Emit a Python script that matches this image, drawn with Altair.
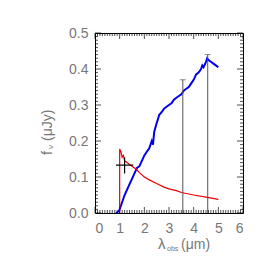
import altair as alt
import pandas as pd

# ---- data ----
blue_x = [0.85, 0.95, 1.0, 1.05, 1.1, 1.2, 1.3, 1.4, 1.5, 1.6, 1.7, 1.8, 1.9, 2.0, 2.1, 2.2,
          2.3, 2.35, 2.4, 2.5, 2.55, 2.6, 2.7, 2.8, 2.9, 3.0, 3.1, 3.2, 3.3, 3.4, 3.5, 3.6,
          3.7, 3.8, 3.9, 4.0, 4.1, 4.2, 4.3, 4.35, 4.4, 4.5, 4.55, 4.6, 4.7, 4.8, 4.9, 5.0]
blue_y = [0.0, 0.004, 0.01, 0.02, 0.03, 0.05, 0.065, 0.08, 0.095, 0.11, 0.125, 0.13, 0.145, 0.16, 0.17, 0.18,
          0.2, 0.19, 0.225, 0.25, 0.26, 0.272, 0.28, 0.29, 0.295, 0.3, 0.305, 0.315, 0.32, 0.325, 0.33, 0.34,
          0.345, 0.35, 0.36, 0.37, 0.385, 0.39, 0.4, 0.41, 0.405, 0.42, 0.43, 0.425, 0.42, 0.415, 0.41, 0.405]

red_x = [1.0, 1.0, 1.05, 1.1, 1.15, 1.2, 1.3, 1.4, 1.5, 1.6, 1.7, 1.8, 2.0, 2.2, 2.5, 2.8,
         3.0, 3.3, 3.5, 4.0, 4.5, 5.0]
red_y = [0.0, 0.178, 0.17, 0.155, 0.16, 0.145, 0.14, 0.135, 0.13, 0.125, 0.12, 0.112, 0.1, 0.092,
         0.082, 0.072, 0.067, 0.062, 0.057, 0.05, 0.044, 0.038]

err_x = [3.56, 4.57]
err_top = [0.37, 0.44]
err_bottom = [0.0, 0.0]

cross_x = [1.2]
cross_y = [0.133]
cross_xlo = [0.85]
cross_xhi = [1.55]
cross_ylo = [0.11]
cross_yhi = [0.155]

x_major = [0, 1, 2, 3, 4, 5, 6]
y_major = [0.0, 0.1, 0.2, 0.3, 0.4, 0.5]
x_minor = [round(i * 0.1, 2) for i in range(61) if i % 10 != 0]
y_minor = [round(i * 0.01, 3) for i in range(51) if i % 10 != 0]

blue = pd.DataFrame({"x": blue_x, "y": blue_y, "i": range(len(blue_x))})
red = pd.DataFrame({"x": red_x, "y": red_y, "i": range(len(red_x))})
err = pd.DataFrame({"x": err_x, "y": err_bottom, "y2": err_top})
cross = pd.DataFrame({"x": cross_x, "y": cross_y, "xlo": cross_xlo, "xhi": cross_xhi,
                      "ylo": cross_ylo, "yhi": cross_yhi})

xs = alt.Scale(domain=[0, 6], nice=False, zero=False)
ys = alt.Scale(domain=[0, 0.5], nice=False, zero=False)

MAJ = 6
MIN = 3

label_x = alt.Axis(orient="bottom", values=x_major, title=None, ticks=False, domain=False,
                   grid=False, labelPadding=8, format="d", labelOverlap=False)
label_y = alt.Axis(orient="left", values=y_major, title=None, ticks=False, domain=False,
                   grid=False, labelPadding=7, format=".1f", labelOverlap=False)

l_blue = alt.Chart(blue).mark_line(color="#0000ee", strokeWidth=2).encode(
    x=alt.X("x:Q", scale=xs, axis=label_x),
    y=alt.Y("y:Q", scale=ys, axis=label_y),
    order="i:Q",
)

l_red = alt.Chart(red).mark_line(color="#ee0000", strokeWidth=1.2).encode(
    x=alt.X("x:Q", scale=xs, axis=None),
    y=alt.Y("y:Q", scale=ys, axis=None),
    order="i:Q",
)

l_err = alt.Chart(err).mark_rule(color="#555555", strokeWidth=1).encode(
    x=alt.X("x:Q", scale=xs, axis=None),
    y=alt.Y("y:Q", scale=ys, axis=None),
    y2="y2:Q",
)

l_cap = alt.Chart(err).mark_tick(color="#555555", orient="horizontal", size=6, thickness=1).encode(
    x=alt.X("x:Q", scale=xs, axis=None),
    y=alt.Y("y2:Q", scale=ys, axis=None),
)

l_ch = alt.Chart(cross).mark_rule(color="black", strokeWidth=1.2).encode(
    x=alt.X("xlo:Q", scale=xs, axis=None),
    x2="xhi:Q",
    y=alt.Y("y:Q", scale=ys, axis=None),
)

l_cv = alt.Chart(cross).mark_rule(color="black", strokeWidth=1.2).encode(
    x=alt.X("x:Q", scale=xs, axis=None),
    y=alt.Y("ylo:Q", scale=ys, axis=None),
    y2="yhi:Q",
)


def xticks(values, size, at, off):
    return alt.Chart(pd.DataFrame({"v": values})).mark_tick(
        color="black", orient="vertical", size=size, thickness=1, yOffset=off).encode(
        x=alt.X("v:Q", scale=xs, axis=None), y=alt.Y(datum=at, axis=None))


def yticks(values, size, at, off):
    return alt.Chart(pd.DataFrame({"v": values})).mark_tick(
        color="black", orient="horizontal", size=size, thickness=1, xOffset=off).encode(
        y=alt.Y("v:Q", scale=ys, axis=None), x=alt.X(datum=at, axis=None))


tick_layers = [
    xticks(x_major, MAJ, 0, -MAJ / 2), xticks(x_minor, MIN, 0, -MIN / 2),
    xticks(x_major, MAJ, 0.5, MAJ / 2), xticks(x_minor, MIN, 0.5, MIN / 2),
    yticks(y_major, MAJ, 0, MAJ / 2), yticks(y_minor, MIN, 0, MIN / 2),
    yticks(y_major, MAJ, 6, -MAJ / 2), yticks(y_minor, MIN, 6, -MIN / 2),
]

TXT = "#777777"
FONT = "Liberation Sans"

t_lam = alt.Chart(pd.DataFrame({"t": ["λ"]})).mark_text(
    fontSize=15, color=TXT, font=FONT, align="left", baseline="alphabetic").encode(
    text="t:N", x=alt.value(63), y=alt.value(216))
t_obs = alt.Chart(pd.DataFrame({"t": ["obs"]})).mark_text(
    fontSize=7, color=TXT, font=FONT, align="left", baseline="alphabetic").encode(
    text="t:N", x=alt.value(72), y=alt.value(218))
t_um = alt.Chart(pd.DataFrame({"t": ["(μm)"]})).mark_text(
    fontSize=14, color=TXT, font=FONT, align="left", baseline="alphabetic").encode(
    text="t:N", x=alt.value(86), y=alt.value(216))

t_f = alt.Chart(pd.DataFrame({"t": ["f"]})).mark_text(
    fontSize=14, color=TXT, font=FONT, align="left", baseline="alphabetic", angle=270).encode(
    text="t:N", x=alt.value(-43), y=alt.value(122))
t_nu = alt.Chart(pd.DataFrame({"t": ["ν"]})).mark_text(
    fontSize=8, color=TXT, font=FONT, align="left", baseline="alphabetic", angle=270).encode(
    text="t:N", x=alt.value(-42), y=alt.value(116))
t_jy = alt.Chart(pd.DataFrame({"t": ["(μJy)"]})).mark_text(
    fontSize=14, color=TXT, font=FONT, align="left", baseline="alphabetic", angle=270).encode(
    text="t:N", x=alt.value(-43), y=alt.value(108))

chart = alt.layer(
    l_blue, l_red, l_err, l_cap, l_ch, l_cv, *tick_layers, t_lam, t_obs, t_um, t_f, t_nu, t_jy
).resolve_axis(x="independent", y="independent").resolve_scale(x="shared", y="shared").properties(
    width=148, height=180,
    autosize=alt.AutoSizeParams(type="none"),
    padding={"left": 87, "top": 25, "right": 22, "bottom": 52},
    background="white",
).configure_view(stroke="black", strokeWidth=1).configure_axis(
    labelFont=FONT, labelFontSize=14, labelColor=TXT,
)

chart.save("out.html", embed_options={"renderer": "svg", "actions": False})
